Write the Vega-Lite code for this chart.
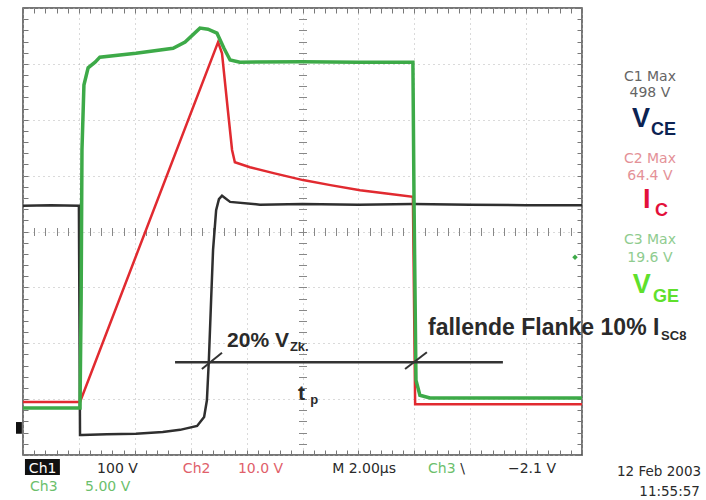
{
  "$schema": "https://vega.github.io/schema/vega-lite/v6.json",
  "width": 559,
  "height": 447,
  "autosize": {"type": "none"},
  "padding": {"left": 23, "top": 8, "right": 124, "bottom": 45},
  "background": "white",
  "config": {
    "view": {"stroke": "#4a4a4a", "strokeWidth": 1.5},
    "axis": {"labels": false, "title": null, "domain": false, "ticks": false, "grid": false}
  },
  "datasets": {
    "vce": [
      {"t": 0, "v": 4.46}, {"t": 1.0, "v": 4.47}, {"t": 2.0, "v": 4.46}, {"t": 2.04, "v": 0.36}, {"t": 2.11, "v": 0.36},
      {"t": 3.0, "v": 0.37}, {"t": 4.04, "v": 0.38}, {"t": 5.0, "v": 0.41}, {"t": 5.62, "v": 0.45}, {"t": 6.23, "v": 0.52},
      {"t": 6.48, "v": 0.68}, {"t": 6.58, "v": 0.98}, {"t": 6.65, "v": 1.7}, {"t": 6.73, "v": 2.77}, {"t": 6.8, "v": 3.67},
      {"t": 6.91, "v": 4.38}, {"t": 7.01, "v": 4.58}, {"t": 7.12, "v": 4.64}, {"t": 7.41, "v": 4.53}, {"t": 8.48, "v": 4.48},
      {"t": 10, "v": 4.49}, {"t": 12, "v": 4.48}, {"t": 13.95, "v": 4.49}, {"t": 16, "v": 4.48}, {"t": 18, "v": 4.47}, {"t": 20, "v": 4.47}
    ],
    "ic": [
      {"t": 0, "v": 0.95}, {"t": 2.04, "v": 0.95}, {"t": 6.98, "v": 7.39}, {"t": 7.12, "v": 7.19}, {"t": 7.33, "v": 6.17},
      {"t": 7.48, "v": 5.46}, {"t": 7.58, "v": 5.24}, {"t": 8.12, "v": 5.15}, {"t": 9.0, "v": 5.04}, {"t": 10.02, "v": 4.92},
      {"t": 11.0, "v": 4.83}, {"t": 12.06, "v": 4.74}, {"t": 13.0, "v": 4.68}, {"t": 13.95, "v": 4.62}, {"t": 13.99, "v": 2.77},
      {"t": 14.03, "v": 0.91}, {"t": 17, "v": 0.91}, {"t": 20, "v": 0.91}
    ],
    "vge": [
      {"t": 0, "v": 0.84}, {"t": 2.04, "v": 0.84}, {"t": 2.08, "v": 2.77}, {"t": 2.11, "v": 5.46}, {"t": 2.18, "v": 6.62},
      {"t": 2.33, "v": 6.93}, {"t": 2.58, "v": 7.03}, {"t": 2.75, "v": 7.12}, {"t": 4.04, "v": 7.19}, {"t": 5.37, "v": 7.28},
      {"t": 5.8, "v": 7.39}, {"t": 6.33, "v": 7.64}, {"t": 6.62, "v": 7.62}, {"t": 6.94, "v": 7.55}, {"t": 7.19, "v": 7.28},
      {"t": 7.41, "v": 7.07}, {"t": 7.76, "v": 7.03}, {"t": 10, "v": 7.04}, {"t": 12, "v": 7.03}, {"t": 13.95, "v": 7.03},
      {"t": 13.99, "v": 4.56}, {"t": 14.06, "v": 1.34}, {"t": 14.2, "v": 1.07}, {"t": 14.56, "v": 1.02}, {"t": 17, "v": 1.02}, {"t": 20, "v": 1.02}
    ]
  },
  "layer": [
    {
      "data": {"name": "vce"},
      "mark": {"type": "line", "color": "#2f2f2f", "strokeWidth": 2.5, "clip": true},
      "encoding": {
        "x": {"field": "t", "type": "quantitative", "scale": {"domain": [0, 20], "nice": false, "zero": false},
          "axis": {"orient": "bottom", "values": [0, 2, 4, 6, 8, 10, 12, 14, 16, 18, 20], "grid": true, "gridDash": [1, 4], "gridColor": "#b4b4b4", "gridWidth": 1}},
        "y": {"field": "v", "type": "quantitative", "scale": {"domain": [0, 8], "nice": false, "zero": false},
          "axis": {"orient": "left", "values": [0, 1, 2, 3, 4, 5, 6, 7, 8], "grid": true, "gridDash": [1, 4], "gridColor": "#b4b4b4", "gridWidth": 1}}
      }
    },
    {
      "data": {"name": "ic"},
      "mark": {"type": "line", "color": "#e12a30", "strokeWidth": 2.5, "clip": true},
      "encoding": {
        "x": {"field": "t", "type": "quantitative", "scale": {"domain": [0, 20], "nice": false, "zero": false},
          "axis": {"orient": "bottom", "offset": -5, "ticks": true, "tickSize": 5, "tickColor": "#777", "values": [0,0.4,0.8,1.2,1.6,2,2.4,2.8,3.2,3.6,4,4.4,4.8,5.2,5.6,6,6.4,6.8,7.2,7.6,8,8.4,8.8,9.2,9.6,10,10.4,10.8,11.2,11.6,12,12.4,12.8,13.2,13.6,14,14.4,14.8,15.2,15.6,16,16.4,16.8,17.2,17.6,18,18.4,18.8,19.2,19.6,20]}},
        "y": {"field": "v", "type": "quantitative", "scale": {"domain": [0, 8], "nice": false, "zero": false},
          "axis": {"orient": "left", "offset": -5, "ticks": true, "tickSize": 5, "tickColor": "#777", "values": [0,0.2,0.4,0.6,0.8,1,1.2,1.4,1.6,1.8,2,2.2,2.4,2.6,2.8,3,3.2,3.4,3.6,3.8,4,4.2,4.4,4.6,4.8,5,5.2,5.4,5.6,5.8,6,6.2,6.4,6.6,6.8,7,7.2,7.4,7.6,7.8,8]}}
      }
    },
    {
      "data": {"name": "vge"},
      "mark": {"type": "line", "color": "#3daa48", "strokeWidth": 3.5, "clip": true},
      "encoding": {
        "x": {"field": "t", "type": "quantitative", "scale": {"domain": [0, 20], "nice": false, "zero": false},
          "axis": {"orient": "top", "offset": -5, "ticks": true, "tickSize": 5, "tickColor": "#777", "values": [0,0.4,0.8,1.2,1.6,2,2.4,2.8,3.2,3.6,4,4.4,4.8,5.2,5.6,6,6.4,6.8,7.2,7.6,8,8.4,8.8,9.2,9.6,10,10.4,10.8,11.2,11.6,12,12.4,12.8,13.2,13.6,14,14.4,14.8,15.2,15.6,16,16.4,16.8,17.2,17.6,18,18.4,18.8,19.2,19.6,20]}},
        "y": {"field": "v", "type": "quantitative", "scale": {"domain": [0, 8], "nice": false, "zero": false},
          "axis": {"orient": "right", "offset": -5, "ticks": true, "tickSize": 5, "tickColor": "#777", "values": [0,0.2,0.4,0.6,0.8,1,1.2,1.4,1.6,1.8,2,2.2,2.4,2.6,2.8,3,3.2,3.4,3.6,3.8,4,4.2,4.4,4.6,4.8,5,5.2,5.4,5.6,5.8,6,6.2,6.4,6.6,6.8,7,7.2,7.4,7.6,7.8,8]}}
      }
    },
    {
      "data": {"values": [{"t": 5.44, "t2": 17.17, "v": 1.66}]},
      "mark": {"type": "rule", "color": "#333", "strokeWidth": 2.5},
      "encoding": {
        "x": {"field": "t", "type": "quantitative", "scale": {"domain": [0, 20], "nice": false, "zero": false},
          "axis": {"orient": "bottom", "offset": -227.5, "ticks": true, "tickSize": 8, "tickColor": "#888", "values": [0,0.4,0.8,1.2,1.6,2,2.4,2.8,3.2,3.6,4,4.4,4.8,5.2,5.6,6,6.4,6.8,7.2,7.6,8,8.4,8.8,9.2,9.6,10,10.4,10.8,11.2,11.6,12,12.4,12.8,13.2,13.6,14,14.4,14.8,15.2,15.6,16,16.4,16.8,17.2,17.6,18,18.4,18.8,19.2,19.6,20]}},
        "x2": {"field": "t2"},
        "y": {"field": "v", "type": "quantitative", "scale": {"domain": [0, 8], "nice": false, "zero": false},
          "axis": {"orient": "left", "offset": -283.5, "ticks": true, "tickSize": 8, "tickColor": "#888", "values": [0,0.2,0.4,0.6,0.8,1,1.2,1.4,1.6,1.8,2,2.2,2.4,2.6,2.8,3,3.2,3.4,3.6,3.8,4,4.2,4.4,4.6,4.8,5,5.2,5.4,5.6,5.8,6,6.2,6.4,6.6,6.8,7,7.2,7.4,7.6,7.8,8]}}
      }
    },
    {
      "data": {"values": [{"t": 6.4, "v": 1.54, "t2": 7.12, "v2": 1.83}, {"t": 13.67, "v": 1.54, "t2": 14.45, "v2": 1.84}]},
      "mark": {"type": "rule", "color": "#333", "strokeWidth": 2},
      "encoding": {
        "x": {"field": "t", "type": "quantitative", "scale": {"domain": [0, 20], "nice": false, "zero": false}, "axis": null},
        "x2": {"field": "t2"},
        "y": {"field": "v", "type": "quantitative", "scale": {"domain": [0, 8], "nice": false, "zero": false}, "axis": null},
        "y2": {"field": "v2"}
      }
    },
    {
      "data": {"values": [{"t": 19.75, "v": 3.54}]},
      "mark": {"type": "point", "shape": "diamond", "filled": true, "color": "#3daa48", "size": 30, "opacity": 1},
      "encoding": {
        "x": {"field": "t", "type": "quantitative", "scale": {"domain": [0, 20], "nice": false, "zero": false}, "axis": null},
        "y": {"field": "v", "type": "quantitative", "scale": {"domain": [0, 8], "nice": false, "zero": false}, "axis": null}
      }
    },
    {
      "data": {"values": [{"t": -0.25, "t2": -0.04, "v": 0.59, "v2": 0.38, "ch": "marker"}, {"t": 0.07, "t2": 1.32, "v": -0.07, "v2": -0.36, "ch": "box"}]},
      "mark": {"type": "rect", "color": "#111"},
      "encoding": {
        "x": {"field": "t", "type": "quantitative", "scale": {"domain": [0, 20], "nice": false, "zero": false}, "axis": null},
        "x2": {"field": "t2"},
        "y": {"field": "v", "type": "quantitative", "scale": {"domain": [0, 8], "nice": false, "zero": false}, "axis": null},
        "y2": {"field": "v2"}
      }
    },
    {
      "data": {"values": [
        {"t": 7.3, "v": 1.93, "text": "20% V"},
        {"t": 9.84, "v": 0.98, "text": "t"}
      ]},
      "mark": {"type": "text", "font": "Liberation Sans", "fontWeight": "bold", "fontSize": 21, "color": "#2a2a2a", "align": "left", "baseline": "alphabetic"},
      "encoding": {
        "x": {"field": "t", "type": "quantitative", "scale": {"domain": [0, 20], "nice": false, "zero": false}, "axis": null},
        "y": {"field": "v", "type": "quantitative", "scale": {"domain": [0, 8], "nice": false, "zero": false}, "axis": null},
        "text": {"field": "text"}
      }
    },
    {
      "data": {"values": [
        {"t": 14.49, "v": 2.15, "text": "fallende Flanke 10% I"}
      ]},
      "mark": {"type": "text", "font": "Liberation Sans", "fontWeight": "bold", "fontSize": 23, "color": "#2a2a2a", "align": "left", "baseline": "alphabetic"},
      "encoding": {
        "x": {"field": "t", "type": "quantitative", "scale": {"domain": [0, 20], "nice": false, "zero": false}, "axis": null},
        "y": {"field": "v", "type": "quantitative", "scale": {"domain": [0, 8], "nice": false, "zero": false}, "axis": null},
        "text": {"field": "text"}
      }
    },
    {
      "data": {"values": [
        {"t": 9.55, "v": 1.86, "text": "Zk."},
        {"t": 10.28, "v": 0.91, "text": "p"},
        {"t": 22.83, "v": 2.06, "text": "SC8"}
      ]},
      "mark": {"type": "text", "font": "Liberation Sans", "fontWeight": "bold", "fontSize": 13, "color": "#2a2a2a", "align": "left", "baseline": "alphabetic"},
      "encoding": {
        "x": {"field": "t", "type": "quantitative", "scale": {"domain": [0, 20], "nice": false, "zero": false}, "axis": null},
        "y": {"field": "v", "type": "quantitative", "scale": {"domain": [0, 8], "nice": false, "zero": false}, "axis": null},
        "text": {"field": "text"}
      }
    },
    {
      "data": {"values": [
        {"t": 22.43, "v": 6.7, "text": "C1 Max", "ch": "C1"},
        {"t": 22.43, "v": 6.4, "text": "498 V", "ch": "C1"},
        {"t": 22.43, "v": 5.22, "text": "C2 Max", "ch": "C2"},
        {"t": 22.43, "v": 4.92, "text": "64.4 V", "ch": "C2"},
        {"t": 22.43, "v": 3.78, "text": "C3 Max", "ch": "C3"},
        {"t": 22.43, "v": 3.46, "text": "19.6 V", "ch": "C3"}
      ]},
      "mark": {"type": "text", "font": "DejaVu Sans", "fontSize": 14, "align": "center", "baseline": "alphabetic", "opacity": 0.85},
      "encoding": {
        "x": {"field": "t", "type": "quantitative", "scale": {"domain": [0, 20], "nice": false, "zero": false}, "axis": null},
        "y": {"field": "v", "type": "quantitative", "scale": {"domain": [0, 8], "nice": false, "zero": false}, "axis": null},
        "text": {"field": "text"},
        "color": {"field": "ch", "type": "nominal", "legend": null, "scale": {"domain": ["C1", "C2", "C3"], "range": ["#4a4a4a", "#e07e86", "#7cc47c"]}}
      }
    },
    {
      "data": {"values": [
        {"t": 21.79, "v": 5.87, "text": "V", "ch": "vce"},
        {"t": 22.18, "v": 4.42, "text": "I", "ch": "ic"},
        {"t": 21.82, "v": 2.9, "text": "V", "ch": "vge"}
      ]},
      "mark": {"type": "text", "font": "Liberation Sans", "fontWeight": "bold", "fontSize": 27, "align": "left", "baseline": "alphabetic"},
      "encoding": {
        "x": {"field": "t", "type": "quantitative", "scale": {"domain": [0, 20], "nice": false, "zero": false}, "axis": null},
        "y": {"field": "v", "type": "quantitative", "scale": {"domain": [0, 8], "nice": false, "zero": false}, "axis": null},
        "text": {"field": "text"},
        "color": {"field": "ch", "type": "nominal", "legend": null, "scale": {"domain": ["vce", "ic", "vge"], "range": ["#0c2352", "#e3103a", "#5fe02c"]}}
      }
    },
    {
      "data": {"values": [
        {"t": 22.47, "v": 5.73, "text": "CE", "ch": "vce"},
        {"t": 22.61, "v": 4.28, "text": "C", "ch": "ic"},
        {"t": 22.54, "v": 2.74, "text": "GE", "ch": "vge"}
      ]},
      "mark": {"type": "text", "font": "Liberation Sans", "fontWeight": "bold", "fontSize": 18, "align": "left", "baseline": "alphabetic"},
      "encoding": {
        "x": {"field": "t", "type": "quantitative", "scale": {"domain": [0, 20], "nice": false, "zero": false}, "axis": null},
        "y": {"field": "v", "type": "quantitative", "scale": {"domain": [0, 8], "nice": false, "zero": false}, "axis": null},
        "text": {"field": "text"},
        "color": {"field": "ch", "type": "nominal", "legend": null, "scale": {"domain": ["vce", "ic", "vge"], "range": ["#0c2352", "#e3103a", "#5fe02c"]}}
      }
    },
    {
      "data": {"values": [
        {"t": 0.21, "v": -0.32, "text": "Ch1", "ch": "inv"},
        {"t": 2.65, "v": -0.32, "text": "100 V", "ch": "k"},
        {"t": 5.72, "v": -0.32, "text": "Ch2", "ch": "r"},
        {"t": 7.69, "v": -0.32, "text": "10.0 V", "ch": "r"},
        {"t": 11.06, "v": -0.32, "text": "M 2.00\u03bcs", "ch": "k"},
        {"t": 14.49, "v": -0.32, "text": "Ch3", "ch": "g"},
        {"t": 15.64, "v": -0.32, "text": "\\", "ch": "k"},
        {"t": 17.35, "v": -0.32, "text": "\u22122.1 V", "ch": "k"},
        {"t": 0.25, "v": -0.64, "text": "Ch3", "ch": "g"},
        {"t": 2.22, "v": -0.64, "text": "5.00 V", "ch": "g"}
      ]},
      "mark": {"type": "text", "font": "DejaVu Sans", "fontSize": 14, "align": "left", "baseline": "alphabetic"},
      "encoding": {
        "x": {"field": "t", "type": "quantitative", "scale": {"domain": [0, 20], "nice": false, "zero": false}, "axis": null},
        "y": {"field": "v", "type": "quantitative", "scale": {"domain": [0, 8], "nice": false, "zero": false}, "axis": null},
        "text": {"field": "text"},
        "color": {"field": "ch", "type": "nominal", "legend": null, "scale": {"domain": ["inv", "k", "r", "g"], "range": ["#ffffff", "#2a2a2a", "#e0606a", "#6cbf6c"]}}
      }
    },
    {
      "data": {"values": [
        {"t": 24.26, "v": -0.38, "text": "12 Feb 2003"},
        {"t": 24.22, "v": -0.73, "text": "11:55:57"}
      ]},
      "mark": {"type": "text", "font": "DejaVu Sans", "fontSize": 13.5, "align": "right", "baseline": "alphabetic", "color": "#2a2a2a"},
      "encoding": {
        "x": {"field": "t", "type": "quantitative", "scale": {"domain": [0, 20], "nice": false, "zero": false}, "axis": null},
        "y": {"field": "v", "type": "quantitative", "scale": {"domain": [0, 8], "nice": false, "zero": false}, "axis": null},
        "text": {"field": "text"}
      }
    }
  ],
  "resolve": {"axis": {"x": "independent", "y": "independent"}, "scale": {"color": "independent"}}
}
